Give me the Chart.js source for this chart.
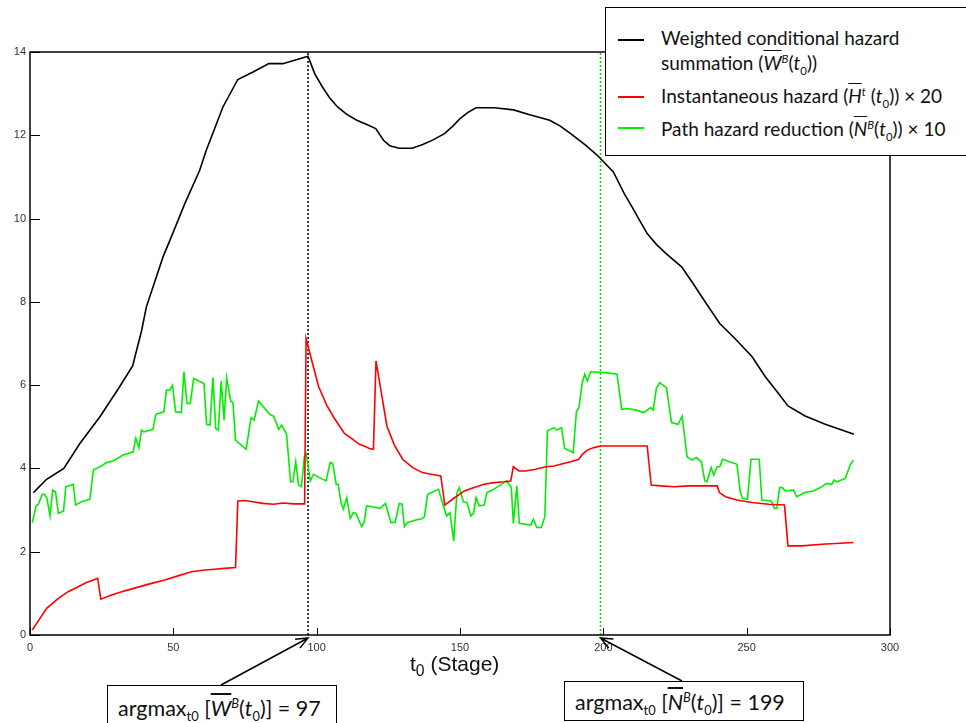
<!DOCTYPE html>
<html>
<head>
<meta charset="utf-8">
<script src="https://cdn.jsdelivr.net/npm/chart.js@4.4.0/dist/chart.umd.min.js"></script>
<style>
  body { margin: 0; background: #fff; }
  #wrap { position: relative; width: 966px; height: 723px; overflow: hidden; }
  #chart { position: absolute; left: 0; top: 0; }
  .box { position: absolute; border: 1.5px solid #000; background: #fff; font-family: Lato, sans-serif; color: #111; }
  .legend { left: 605px; top: 7px; width: 400px; height: 147px; font-size: 19px; }
  .legend .swatch { position: absolute; left: 12px; width: 26px; height: 0; border-top: 2px solid; }
  .legend .txt { position: absolute; left: 55px; line-height: 24px; white-space: nowrap; }
  .bar { text-decoration: overline; font-style: italic; }
  sub, sup { font-size: 60%; line-height: 0; }
  .note { font-size: 21.5px; white-space: nowrap; }
  .note span.t { position: absolute; left: 10px; line-height: 26px; }
  #xtitle { position: absolute; left: 410px; top: 652px; font-family: "Liberation Sans", Arial, sans-serif; font-size: 21px; color: #111; }
</style>
</head>
<body>
<div id="wrap">
  <canvas id="chart" width="966" height="723"></canvas>
  <div id="xtitle">t<sub style="font-size:75%">0</sub> (Stage)</div>
  <div class="box legend">
    <div class="swatch" style="top:31px;border-color:#000"></div>
    <div class="txt" style="top:18px">Weighted conditional hazard</div>
    <div class="txt" style="top:43px">summation (<span class="bar">W</span><sup><i>B</i></sup>(<i>t</i><sub>0</sub>))</div>
    <div class="swatch" style="top:88px;border-color:#ff0000"></div>
    <div class="txt" style="top:76px">Instantaneous hazard (<span class="bar">H</span><sup><i>t</i></sup> (<i>t</i><sub>0</sub>)) × 20</div>
    <div class="swatch" style="top:119px;border-color:#00ee00"></div>
    <div class="txt" style="top:109px">Path hazard reduction (<span class="bar">N</span><sup><i>B</i></sup>(<i>t</i><sub>0</sub>)) × 10</div>
  </div>
  <div class="box note" style="left:107px;top:685px;width:228px;height:60px">
    <span class="t" style="top:9px">argmax<sub>t0</sub> [<span class="bar">W</span><sup><i>B</i></sup>(<i>t</i><sub>0</sub>)] = 97</span>
  </div>
  <div class="box note" style="left:564px;top:681px;width:238px;height:38px">
    <span class="t" style="top:7px">argmax<sub>t0</sub> [<span class="bar">N</span><sup><i>B</i></sup>(<i>t</i><sub>0</sub>)] = 199</span>
  </div>
</div>
<script>
// weighted conditional hazard summation
const wStage = [1.2, 5.8, 11.8, 17.4, 24.4, 30.7, 35.8, 38.9, 40.6, 46.4, 49.3, 54, 59.2, 61.5, 67.3, 72.5, 77.8, 83.3, 88.2, 92.3, 97, 99.3, 102, 104.5, 107.3, 110.5, 114, 117.5, 120.6, 123.3, 125.5, 128.7, 133.3, 137, 140.6, 144.6, 147.5, 150, 153, 155.6, 162, 168.7, 174, 181.3, 185, 188.6, 193.9, 197.9, 203.5, 207.3, 210, 212.7, 215.3, 218.5, 221.9, 227.3, 231.3, 235.9, 240.6, 245.9, 251.9, 256.5, 261.1, 264.4, 270.4, 277.4, 283.2, 287.4]
const wValue = [3.42, 3.74, 4.0, 4.6, 5.24, 5.9, 6.46, 7.3, 7.88, 9.08, 9.56, 10.36, 11.16, 11.64, 12.68, 13.34, 13.52, 13.72, 13.72, 13.8, 13.9, 13.48, 13.16, 12.9, 12.68, 12.5, 12.36, 12.26, 12.16, 11.88, 11.75, 11.69, 11.69, 11.78, 11.89, 12.04, 12.22, 12.4, 12.56, 12.66, 12.66, 12.61, 12.5, 12.36, 12.22, 12.04, 11.76, 11.52, 11.12, 10.6, 10.28, 9.95, 9.64, 9.38, 9.16, 8.84, 8.44, 7.96, 7.48, 7.12, 6.68, 6.2, 5.8, 5.5, 5.26, 5.06, 4.92, 4.82]

// instantaneous hazard x 20
const hStage = [0.8, 2.9, 5.8, 9.9, 13.3, 16.8, 19.7, 22.1, 23.6, 24.7, 28.4, 33.1, 37.7, 42.4, 47, 51.6, 56.3, 60.9, 64.4, 67.9, 71.7, 72.5, 74.9, 77.8, 81.2, 85, 88.2, 92, 95.8, 96.3, 98.4, 100.7, 103.5, 106.2, 109.7, 112.6, 114.9, 116.6, 118.4, 119.8, 120.7, 122.8, 124.5, 127.1, 130, 133.5, 136.9, 139.9, 143.3, 144.7, 147.4, 151.5, 154.9, 158.4, 161.9, 165.4, 167.7, 168.6, 170.6, 172.9, 176.4, 179.9, 182.8, 185.1, 188.6, 191.5, 192.7, 194.4, 196.7, 199.1, 215.3, 216.7, 220, 224.6, 229.8, 239.7, 240.5, 242.6, 246.6, 251.9, 257.7, 263.2, 264.4, 269.3, 276.2, 287.3]
const hValue = [0.12, 0.34, 0.64, 0.88, 1.04, 1.16, 1.26, 1.32, 1.36, 0.86, 0.96, 1.06, 1.15, 1.24, 1.32, 1.42, 1.52, 1.56, 1.58, 1.6, 1.62, 3.22, 3.23, 3.2, 3.16, 3.14, 3.17, 3.15, 3.15, 7.12, 6.56, 5.96, 5.52, 5.2, 4.84, 4.7, 4.58, 4.54, 4.48, 4.46, 6.58, 5.72, 5.02, 4.56, 4.22, 4.02, 3.9, 3.86, 3.82, 3.12, 3.26, 3.46, 3.54, 3.62, 3.66, 3.68, 3.7, 4.04, 3.94, 3.94, 3.98, 4.04, 4.06, 4.1, 4.16, 4.22, 4.34, 4.44, 4.5, 4.54, 4.54, 3.6, 3.58, 3.56, 3.58, 3.58, 3.42, 3.32, 3.24, 3.18, 3.14, 3.12, 2.14, 2.14, 2.18, 2.22]

// path hazard reduction x 10
const nStage = [0.8, 2.1, 2.9, 4.3, 5.0, 5.9, 7.0, 7.9, 8.9, 9.9, 11.7, 12.5, 15.1, 15.9, 18.0, 20.9, 22.1, 25.0, 26.7, 29.0, 32.5, 36.0, 36.9, 38.0, 38.9, 39.7, 42.9, 43.9, 46.7, 47.6, 48.7, 49.7, 50.8, 52.8, 53.7, 54.8, 55.9, 57.1, 60.7, 61.6, 62.8, 63.8, 64.8, 65.7, 66.7, 67.7, 68.6, 70.0, 70.8, 71.7, 75.4, 77.1, 78.2, 79.7, 81.8, 83.6, 85.0, 86.8, 87.8, 89.5, 90.9, 91.7, 92.7, 93.7, 94.7, 95.7, 96.3, 97.8, 98.9, 101.0, 103.3, 104.7, 105.6, 106.8, 107.5, 108.5, 109.3, 110.5, 111.7, 112.8, 113.7, 115.7, 116.6, 117.4, 119.5, 122.1, 124.0, 125.9, 127.4, 128.8, 129.8, 130.6, 131.7, 134.6, 136.7, 137.6, 138.7, 142.5, 144.2, 145.3, 146.5, 147.8, 148.9, 149.7, 151.2, 152.4, 153.8, 154.7, 155.6, 156.7, 158.4, 159.4, 161.3, 163.6, 166.3, 167.9, 168.6, 169.8, 170.7, 174.7, 175.6, 176.8, 178.4, 179.6, 180.5, 182.8, 183.7, 185.4, 186.5, 188.4, 189.5, 190.6, 191.5, 192.6, 193.5, 194.4, 195.6, 200.8, 204.8, 206.4, 208.3, 211.6, 214.1, 216.5, 217.4, 218.5, 219.6, 222.0, 223.8, 226.1, 227.5, 229.2, 231.0, 232.4, 234.2, 235.4, 236.2, 237.6, 238.5, 239.7, 240.6, 241.6, 246.6, 247.8, 248.6, 250.3, 251.5, 254.4, 255.3, 258.6, 259.7, 260.5, 261.5, 262.4, 263.5, 266.4, 267.5, 270.2, 273.3, 275.7, 278.0, 279.7, 280.5, 281.4, 284.4, 286.1, 287.2]
const nValue = [2.70, 3.10, 3.14, 3.38, 3.38, 3.28, 2.86, 3.48, 3.44, 2.92, 2.98, 3.56, 3.62, 3.12, 3.20, 3.26, 3.96, 4.06, 4.14, 4.18, 4.32, 4.40, 4.72, 4.50, 4.92, 4.88, 4.94, 5.30, 5.36, 5.88, 5.88, 6.00, 5.36, 5.34, 6.32, 5.56, 5.56, 6.16, 6.04, 5.06, 5.04, 6.18, 4.96, 4.92, 6.10, 5.16, 6.18, 5.62, 5.58, 4.68, 4.46, 5.22, 5.16, 5.62, 5.45, 5.30, 5.25, 4.94, 5.04, 4.82, 3.68, 3.68, 4.16, 3.60, 3.56, 4.28, 4.36, 3.70, 3.86, 3.78, 3.70, 4.14, 4.12, 3.62, 3.62, 3.18, 3.02, 3.30, 2.80, 2.94, 2.92, 2.60, 2.72, 3.10, 3.08, 3.04, 3.16, 2.70, 2.71, 3.16, 3.14, 2.60, 2.70, 2.76, 2.79, 2.84, 3.38, 3.50, 3.10, 2.86, 2.94, 2.26, 3.40, 3.54, 3.20, 3.18, 2.86, 2.92, 3.30, 3.10, 3.12, 3.42, 3.48, 3.58, 3.70, 3.54, 2.68, 3.58, 2.68, 2.64, 2.78, 2.58, 2.58, 2.84, 4.90, 4.98, 4.92, 4.98, 4.48, 4.42, 4.38, 5.36, 5.46, 6.04, 6.26, 6.10, 6.32, 6.30, 6.26, 5.42, 5.44, 5.40, 5.34, 5.46, 5.40, 5.92, 6.06, 5.94, 5.10, 5.06, 5.26, 4.28, 4.20, 4.26, 4.16, 3.70, 3.68, 4.02, 3.84, 4.04, 4.04, 4.22, 4.10, 3.42, 3.28, 3.26, 4.22, 4.22, 3.24, 3.22, 3.04, 3.04, 3.54, 3.54, 3.46, 3.48, 3.32, 3.42, 3.46, 3.54, 3.64, 3.62, 3.72, 3.68, 3.76, 4.08, 4.20]

const xTicks = [0, 50, 100, 150, 200, 250, 300]
const yTicks = [0, 2, 4, 6, 8, 10, 12, 14]
const argmaxW = 97
const argmaxN = 199

function points(stage, value) {
    return stage.map((s, i) => ({x: s, y: value[i]}))
}

function drawArrow(ctx, x0, y0, x1, y1) {
    const ang = Math.atan2(y1 - y0, x1 - x0)
    const len = 13
    ctx.beginPath()
    ctx.moveTo(x0, y0)
    ctx.lineTo(x1, y1)
    ctx.moveTo(x1 - len * Math.cos(ang - 0.4), y1 - len * Math.sin(ang - 0.4))
    ctx.lineTo(x1, y1)
    ctx.lineTo(x1 - len * Math.cos(ang + 0.4), y1 - len * Math.sin(ang + 0.4))
    ctx.stroke()
}

const frame = {
    id: 'frame',
    afterDraw(chart) {
        const {ctx, chartArea: a, scales: {x, y}} = chart
        ctx.save()
        ctx.strokeStyle = '#000'
        ctx.lineWidth = 1.5
        ctx.strokeRect(a.left, a.top, a.right - a.left, a.bottom - a.top)
        ctx.lineWidth = 1
        yTicks.forEach(v => {
            const py = Math.round(y.getPixelForValue(v)) + 0.5
            ctx.beginPath(); ctx.moveTo(a.left, py); ctx.lineTo(a.left + 10, py); ctx.stroke()
        })
        xTicks.forEach(v => {
            const px = Math.round(x.getPixelForValue(v)) + 0.5
            ctx.beginPath(); ctx.moveTo(px, a.bottom); ctx.lineTo(px, a.bottom - 7); ctx.stroke()
        })
        ctx.lineWidth = 1.5
        drawArrow(ctx, 221, 685, x.getPixelForValue(argmaxW), a.bottom + 3)
        drawArrow(ctx, 682, 681, x.getPixelForValue(argmaxN), a.bottom + 3)
        ctx.restore()
    }
}

const tickFont = {family: '"Liberation Sans", Arial, sans-serif', size: 11}

new Chart(document.getElementById('chart').getContext('2d'), {
    type: 'line',
    data: {
        datasets: [
            {data: points(wStage, wValue), borderColor: '#000', borderWidth: 1.6},
            {data: points(hStage, hValue), borderColor: '#ff0000', borderWidth: 1.6},
            {data: points(nStage, nValue), borderColor: '#00ee00', borderWidth: 1.6},
            {data: [{x: argmaxW, y: 0}, {x: argmaxW, y: 14}], borderColor: '#000', borderWidth: 1.5, borderDash: [2, 2]},
            {data: [{x: argmaxN, y: 0}, {x: argmaxN, y: 14}], borderColor: '#00dd00', borderWidth: 1.5, borderDash: [2, 2]}
        ]
    },
    options: {
        responsive: false,
        animation: false,
        devicePixelRatio: 1,
        layout: {padding: {top: 52, right: 76, left: 0, bottom: 0}},
        elements: {point: {radius: 0}, line: {tension: 0, fill: false}},
        plugins: {legend: {display: false}, tooltip: {enabled: false}},
        scales: {
            x: {
                type: 'linear', min: 0, max: 300,
                grid: {display: false, drawTicks: false},
                border: {display: false},
                ticks: {stepSize: 50, padding: 6, color: '#333', font: tickFont, maxRotation: 0},
                afterFit: s => { s.height = 88 }
            },
            y: {
                min: 0, max: 14,
                grid: {display: false, drawTicks: false},
                border: {display: false},
                ticks: {stepSize: 2, padding: 4, color: '#333', font: tickFont},
                afterFit: s => { s.width = 30 }
            }
        }
    },
    plugins: [frame]
})
</script>
</body>
</html>
